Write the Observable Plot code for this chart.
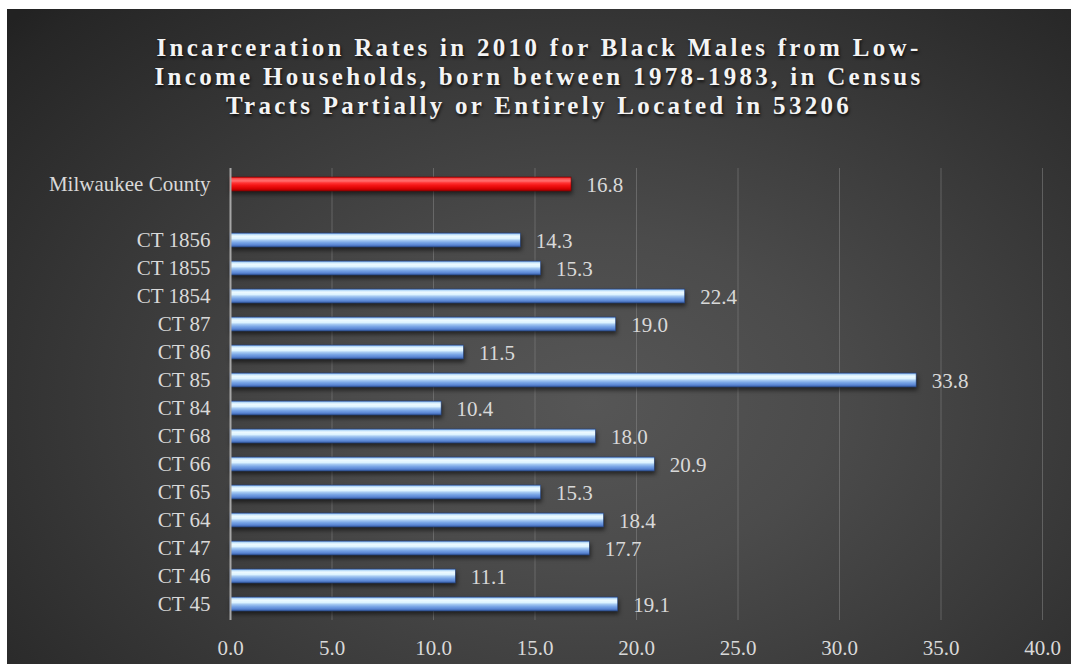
<!DOCTYPE html>
<html>
<head>
<meta charset="utf-8">
<script src="https://cdn.jsdelivr.net/npm/d3@7"></script>
<script src="https://cdn.jsdelivr.net/npm/@observablehq/plot@0.6"></script>
<style>
  html, body { margin: 0; padding: 0; background: #ffffff; }
  body { width: 1071px; height: 664px; position: relative; overflow: hidden; }
  #chart {
    position: absolute; left: 7px; top: 9px; width: 1064px; height: 655px;
    background: radial-gradient(ellipse 75% 85% at 55% 60%, #565656 0%, #4b4b4b 30%, #3a3a3a 60%, #262626 95%, #222 100%);
  }
  #title {
    height: 141px; box-sizing: border-box; padding-top: 24px;
    font-family: "Liberation Serif", "Times New Roman", serif; font-weight: bold;
    font-size: 25px; line-height: 29px; letter-spacing: 3.3px; color: #f4f4f4;
    text-align: center; text-shadow: 1px 2px 3px rgba(0,0,0,0.75);
  }
  svg { display: block; }
</style>
</head>
<body>
<div id="chart">
  <div id="title">Incarceration Rates in 2010 for Black Males from Low-<br>Income Households, born between 1978-1983, in Census<br>Tracts Partially or Entirely Located in 53206</div>
</div>
<script>
const categories = ["Milwaukee County", "CT 1856", "CT 1855", "CT 1854", "CT 87", "CT 86", "CT 85", "CT 84", "CT 68", "CT 66", "CT 65", "CT 64", "CT 47", "CT 46", "CT 45"];
const values = [16.8, 14.3, 15.3, 22.4, 19.0, 11.5, 33.8, 10.4, 18.0, 20.9, 15.3, 18.4, 17.7, 11.1, 19.1];
const highlighted = ["Milwaukee County"];
const xTicks = [0, 5, 10, 15, 20, 25, 30, 35, 40];
const spacer = " ";

const data = categories.map((c, i) => ({category: c, value: values[i], red: highlighted.includes(c)}));
const yDomain = [categories[0], spacer, ...categories.slice(1)];

const SVGNS = "http://www.w3.org/2000/svg";
function gradientDefs() {
  const defs = document.createElementNS(SVGNS, "defs");
  const mk = (id, stops) => {
    const g = document.createElementNS(SVGNS, "linearGradient");
    g.setAttribute("id", id);
    g.setAttribute("x1", "0"); g.setAttribute("y1", "0");
    g.setAttribute("x2", "0"); g.setAttribute("y2", "1");
    for (const [o, c] of stops) {
      const s = document.createElementNS(SVGNS, "stop");
      s.setAttribute("offset", o);
      s.setAttribute("stop-color", c);
      g.appendChild(s);
    }
    defs.appendChild(g);
  };
  mk("blueGrad", [["0", "#5a86d2"], ["0.1", "#b8dbf8"], ["0.22", "#eefaff"], ["0.4", "#dcf3ff"], ["0.52", "#a6caf2"], ["0.68", "#7aa6e6"], ["0.85", "#5a86d4"], ["1", "#34589c"]]);
  mk("redGrad", [["0", "#c80000"], ["0.12", "#ff5050"], ["0.28", "#ff7070"], ["0.42", "#ff3434"], ["0.6", "#f41414"], ["0.85", "#d40000"], ["1", "#960000"]]);
  return defs;
}

const plot = Plot.plot({
  width: 1064,
  height: 514,
  marginTop: 18,
  marginBottom: 44,
  marginLeft: 223,
  marginRight: 29,
  style: {background: "transparent", fontFamily: "'Liberation Serif', 'Times New Roman', serif", fontSize: "21px", color: "#d9d9d9"},
  x: {domain: [0, 40], ticks: xTicks, tickFormat: d => d.toFixed(1)},
  y: {domain: yDomain, paddingInner: 0.5, paddingOuter: 0.25},
  marks: [
    gradientDefs,
    Plot.gridX(xTicks.slice(1), {stroke: "#8a8a8a", strokeOpacity: 0.5, strokeWidth: 1}),
    Plot.axisX({ticks: xTicks, tickFormat: d => d.toFixed(1), tickSize: 0, tickPadding: 20, label: null, fill: "#d9d9d9", fontSize: 21}),
    Plot.axisY({tickSize: 0, tickPadding: 20, label: null, fill: "#d9d9d9", fontSize: 21}),
    Plot.barX(data, {y: "category", x: "value", fill: d => d.red ? "url(#redGrad)" : "url(#blueGrad)", stroke: d => d.red ? "#7a0000" : "#24407a", strokeWidth: 0.6}),
    Plot.ruleX([0], {stroke: "#a6a6a6", strokeWidth: 2}),
    Plot.text(data, {y: "category", x: "value", text: d => d.value.toFixed(1), textAnchor: "start", dx: 15, dy: 1, fill: "#d9d9d9", fontSize: 21})
  ]
});
document.getElementById("chart").appendChild(plot);
const barG = plot.querySelector('g[aria-label="bar"]');
if (barG) barG.style.filter = "drop-shadow(1px 3px 2px rgba(0,0,0,0.55))";
</script>
</body>
</html>
